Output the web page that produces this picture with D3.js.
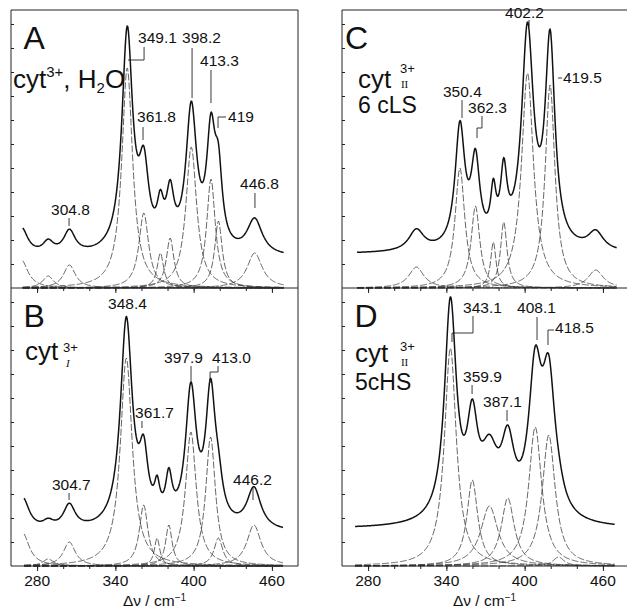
<!DOCTYPE html>
<html lang="en">
<head>
<meta charset="UTF-8">
<title>Resonance Raman band fits, cyt3+</title>
<script src="https://d3js.org/d3.v7.min.js"></script>
<style>
  body { margin: 0; background: #fff; }
  svg { display: block; }
  text { font-family: "Liberation Sans", Arial, sans-serif; fill: #111; }
  .frame { stroke: #222; stroke-width: 1; fill: none; }
  .spec { fill: none; stroke: #111; stroke-width: 1.5; stroke-linejoin: round; }
  .band { fill: none; stroke: #333; stroke-width: 0.75; stroke-dasharray: 7,2; }
  .lead { fill: none; stroke: #222; stroke-width: 0.9; }
  .tick line { stroke: #222; }
</style>
</head>
<body>
<script>
// x in cm-1, intensity in arbitrary units
const xTicks = [280, 340, 400, 460];

// fitted Lorentzian bands: [centre cm-1, height, FWHM cm-1]
const bandsA = [[268, 140, 12], [288.5, 60, 10], [304.8, 115, 11], [349.1, 1100, 10], [361.8, 375, 9],
  [374.5, 175, 6], [382, 250, 7], [398.2, 705, 10], [413.3, 545, 8], [419, 335, 7], [446.8, 175, 14]];
const bandsB = [[269, 165, 12], [288.5, 35, 10], [304.7, 120, 11], [348.4, 1040, 11], [361.7, 305, 8],
  [372, 140, 5], [381, 205, 6], [397.9, 670, 10], [413.0, 645, 9], [419, 140, 8], [446.2, 205, 13]];
const bandsC = [[317, 105, 14], [350.4, 600, 9], [362.3, 410, 8], [376, 230, 5], [384, 330, 6],
  [402.2, 1075, 11], [419.5, 1015, 9], [454.5, 90, 14]];
const bandsD = [[343.1, 1090, 11], [359.9, 430, 10], [373, 300, 16], [387.1, 340, 12],
  [408.1, 695, 12], [418.5, 655, 12], [426, 45, 10]];

// background under the measured spectrum, and recorded range
const backgrounds = [150, 165, 170, 185];
const rangeA = [269, 469], rangeB = [270, 468.5], rangeC = [271.5, 470.8], rangeD = [270, 469.3];

// peak labels: [text, x (cm-1), intensity at baseline of text]
const labelsA = [["349.1", 357.4, 1225], ["398.2", 391.1, 1225], ["413.3", 404.9, 1110], ["419", 426.4, 830],
  ["361.8", 356.6, 830], ["304.8", 290.7, 365], ["446.8", 435.6, 495]];
const leadersA = [[[362, 1205], [362, 1140], [349.7, 1140]], [[398.8, 1200], [398.8, 950]],
  [[413.3, 1090], [413.3, 925]], [[424.8, 855], [418.7, 855], [418.7, 800]], [[361.2, 805], [361.2, 740]],
  [[304.5, 350], [304.5, 310]], [[447, 475], [447, 400]]];
const labelsB = [["348.4", 334.4, 1285], ["361.7", 355.1, 740], ["397.9", 377.3, 1015], ["413.0", 414.1, 1015],
  ["304.7", 291.4, 380], ["446.2", 430.2, 405]];
const leadersB = [[[360.4, 725], [360.4, 690]], [[398, 1000], [398, 925]],
  [[418.7, 1000], [418.7, 970], [412.6, 970], [412.6, 915]], [[304.5, 365], [304.5, 330]], [[445.5, 390], [445.5, 330]]];
const labelsC = [["350.4", 337.4, 955], ["362.3", 356.6, 875], ["402.2", 385, 1350], ["419.5", 429.4, 1025]];
const leadersC = [[[352, 940], [352, 850]], [[367.3, 860], [367.3, 800], [363.5, 800], [363.5, 750]],
  [[403.4, 1340], [403.4, 1310]], [[425.6, 1050], [428.7, 1050]]];
const labelsD = [["343.1", 352.8, 1265], ["408.1", 394.2, 1265], ["418.5", 423.3, 1165], ["359.9", 352.8, 920],
  ["387.1", 368.1, 795]];
const leadersD = [[[360.4, 1250], [360.4, 1165], [344.3, 1165], [344.3, 1120]], [[409.5, 1245], [409.5, 1130]],
  [[422.5, 1180], [417.9, 1180], [417.9, 1105]], [[359.7, 905], [359.7, 860]], [[386.5, 780], [386.5, 725]]];

const svg = d3.select("body").append("svg").attr("width", 627).attr("height", 609);

const xLeft = d3.scaleLinear().domain([260, 480]).range([11, 298]);
const xRight = d3.scaleLinear().domain([260, 480]).range([342, 629]);
const yTop = d3.scaleLinear().domain([0, 1390]).range([288, 10]);
const yBot = d3.scaleLinear().domain([0, 1390]).range([566, 288]);

const panels = [
  { name: "A", x: xLeft, y: yTop, bands: bandsA, bg: backgrounds[0], range: rangeA, labels: labelsA, leaders: leadersA },
  { name: "B", x: xLeft, y: yBot, bands: bandsB, bg: backgrounds[1], range: rangeB, labels: labelsB, leaders: leadersB },
  { name: "C", x: xRight, y: yTop, bands: bandsC, bg: backgrounds[2], range: rangeC, labels: labelsC, leaders: leadersC },
  { name: "D", x: xRight, y: yBot, bands: bandsD, bg: backgrounds[3], range: rangeD, labels: labelsD, leaders: leadersD }
];

function lorentz(b, v) {
  const hw = b[2] / 2;
  return b[1] / (1 + ((v - b[0]) / hw) ** 2);
}

panels.forEach(p => {
  const g = svg.append("g");
  const grid = d3.range(p.range[0], p.range[1] + 0.01, 0.5);
  const line = d3.line().x(d => p.x(d[0])).y(d => p.y(d[1]));

  // component bands
  p.bands.forEach(b => {
    g.append("path").attr("class", "band")
      .attr("d", line(grid.map(v => [v, lorentz(b, v)])));
  });

  // measured spectrum = background + sum of bands
  g.append("path").attr("class", "spec")
    .attr("d", line(grid.map(v => [v, p.bg + d3.sum(p.bands, b => lorentz(b, v))])));

  // axes
  const [x0, x1] = p.x.range();
  const yb = p.y(0), yt = p.y.range()[1];
  const xAx = d3.axisBottom(p.x).tickValues(d3.range(280, 461, 20)).tickSize(3).tickFormat("");
  g.append("g").attr("class", "tick").attr("transform", `translate(0,${yb})`).call(xAx)
    .call(s => s.select(".domain").remove());
  g.append("g").attr("class", "tick").attr("transform", `translate(0,${yb})`)
    .call(d3.axisBottom(p.x).tickValues(xTicks).tickSize(5).tickFormat(""))
    .call(s => s.select(".domain").remove());
  g.append("g").attr("class", "tick").attr("transform", `translate(${x0},0)`)
    .call(d3.axisLeft(p.y).tickValues(d3.range(120, 1390, 120)).tickSize(-3).tickFormat(""))
    .call(s => s.select(".domain").remove());

  g.append("line").attr("class", "frame").attr("stroke-width", 1.4)
    .attr("x1", x0).attr("x2", Math.min(x1, 627)).attr("y1", yb).attr("y2", yb);
  g.append("line").attr("class", "frame").attr("x1", x0).attr("x2", x0).attr("y1", yt).attr("y2", yb);
  if (x1 < 627) g.append("line").attr("class", "frame").attr("x1", x1).attr("x2", x1).attr("y1", yt).attr("y2", yb);
  if (p.name === "A" || p.name === "C")
    g.append("line").attr("class", "frame").attr("x1", x0).attr("x2", Math.min(x1, 627)).attr("y1", yt).attr("y2", yt);

  // peak labels
  p.labels.forEach(l => {
    g.append("text").attr("x", p.x(l[1])).attr("y", p.y(l[2]))
      .attr("font-size", 15.5).text(l[0]);
  });
  p.leaders.forEach(pts => {
    g.append("path").attr("class", "lead").attr("d", line(pts));
  });

  // panel letter
  g.append("text").attr("x", p.x(p.name === "C" ? 262.3 : 269.5)).attr("y", p.y(1195))
    .attr("font-size", 32).text(p.name);

  // x tick labels on lower panels
  if (p.name === "B" || p.name === "D") {
    xTicks.forEach(t => {
      g.append("text").attr("x", p.x(t)).attr("y", 586).attr("text-anchor", "middle")
        .attr("font-size", 15.5).text(t);
    });
    const tt = g.append("text").attr("x", (x0 + Math.min(x1, 627)) / 2).attr("y", 606)
      .attr("text-anchor", "middle").attr("font-size", 15.5);
    tt.append("tspan").text("\u0394\u03bd / cm");
    tt.append("tspan").attr("font-size", 10).attr("dy", -5).text("\u22121");
  }
});

// sample descriptions
const tA = svg.append("text").attr("x", xLeft(261.5)).attr("y", yTop(1000)).attr("font-size", 26);
tA.append("tspan").text("cyt");
tA.append("tspan").attr("font-size", 15).attr("dy", -11).text("3+");
tA.append("tspan").attr("dy", 11).text(", H");
tA.append("tspan").attr("font-size", 15).attr("dy", 5).text("2");
tA.append("tspan").attr("dy", -5).text("O");

function stacked(x, y, cytAt, supAt, subAt, sub, italic) {
  svg.append("text").attr("x", x(cytAt[0])).attr("y", y(cytAt[1])).attr("font-size", 26).text("cyt");
  svg.append("text").attr("x", x(supAt[0])).attr("y", y(supAt[1])).attr("font-size", 13).text("3+");
  svg.append("text").attr("x", x(subAt[0])).attr("y", y(subAt[1])).attr("font-size", 11)
    .style("font-family", "'Liberation Serif', serif").style("font-style", italic ? "italic" : "normal").text(sub);
}
stacked(xLeft, yBot, [270.7, 1030], [299.9, 1070], [302.2, 995], "I", true);
stacked(xRight, yTop, [272.3, 1000], [304.5, 1075], [305.2, 1000], "II", false);
stacked(xRight, yBot, [270, 1020], [304.5, 1075], [305.2, 1000], "II", false);
svg.append("text").attr("x", xRight(272.3)).attr("y", yTop(875)).attr("font-size", 23).text("6 cLS");
svg.append("text").attr("x", xRight(270)).attr("y", yBot(880)).attr("font-size", 23).text("5cHS");
</script>
</body>
</html>
